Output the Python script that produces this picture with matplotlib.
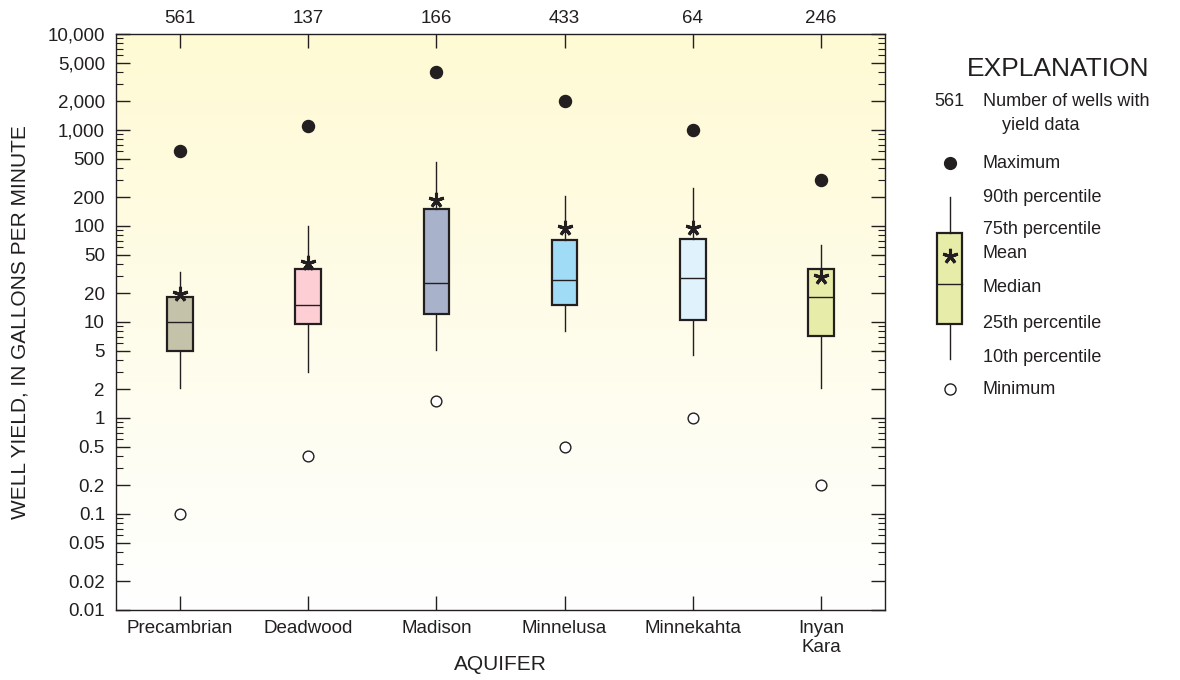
import numpy as np
import matplotlib.pyplot as plt
from matplotlib.ticker import FixedLocator, NullFormatter

plt.rcParams['font.family'] = ['Liberation Sans', 'DejaVu Sans']

# Data (gallons per minute)
aquifers = ['Precambrian', 'Deadwood', 'Madison', 'Minnelusa', 'Minnekahta', 'Inyan\nKara']
n_wells = [561, 137, 166, 433, 64, 246]
y_max = [600, 1100, 4000, 2000, 1000, 300]
p90 = [33, 100, 460, 205, 250, 63]
p75 = [18, 35.5, 150, 71, 73, 35.5]
mean = [19.5, 41, 185, 95, 95, 29.5]
median = [10, 15, 25.5, 27.5, 29, 18]
p25 = [5, 9.5, 12, 15, 10.5, 7.2]
p10 = [2.05, 3, 5.1, 8.1, 4.5, 2.05]
y_min = [0.1, 0.4, 1.5, 0.5, 1.0, 0.2]
box_colors = ['#c5c2aa', '#fdcfd4', '#a8b3cb', '#a1dcf6', '#e0f3fd', '#e7eda8']

ytick_vals = [0.01, 0.02, 0.05, 0.1, 0.2, 0.5, 1, 2, 5, 10, 20, 50, 100, 200, 500,
              1000, 2000, 5000, 10000]
ytick_labels = ['0.01', '0.02', '0.05', '0.1', '0.2', '0.5', '1', '2', '5', '10', '20',
                '50', '100', '200', '500', '1,000', '2,000', '5,000', '10,000']

tc = '#231f20'
fig = plt.figure(figsize=(11.8, 6.8), dpi=100)
ax = fig.add_axes([116 / 1180, 1 - 610 / 680, (885 - 116) / 1180, (610 - 34) / 680])

# yellow-to-white background gradient
grad = np.linspace(0, 1, 256).reshape(-1, 1)
top = np.array([254, 250, 212]) / 255
bot = np.array([255, 255, 255]) / 255
img = top * (1 - grad[..., None]) + bot * grad[..., None]
ax.imshow(img, extent=[0, 1, 0, 1], transform=ax.transAxes, aspect='auto', zorder=0)

pos = np.arange(len(aquifers))
stats = []
for i in range(len(aquifers)):
    stats.append(dict(med=median[i], q1=p25[i], q3=p75[i], whislo=p10[i], whishi=p90[i],
                      mean=mean[i], fliers=[]))

bp = ax.bxp(stats, positions=pos, widths=0.2, patch_artist=True, showcaps=False,
            showmeans=True, showfliers=False,
            boxprops=dict(linewidth=1.6, edgecolor=tc),
            medianprops=dict(color=tc, linewidth=1.0),
            whiskerprops=dict(color=tc, linewidth=1.0),
            meanprops=dict(marker=(5, 2, 0), markersize=11, markeredgewidth=2.2,
                           markeredgecolor=tc, markerfacecolor=tc))
for patch, c in zip(bp['boxes'], box_colors):
    patch.set_facecolor(c)
for m in bp['means']:
    m.set_zorder(5)

ax.scatter(pos, y_max, s=75, color=tc, zorder=4)
ax.scatter(pos, y_min, s=60, facecolor='white', edgecolor=tc, linewidth=1.0, zorder=4)

ax.set_yscale('log')
ax.set_ylim(0.01, 10000)
ax.set_xlim(-0.5, len(aquifers) - 0.5)
ax.yaxis.set_major_locator(FixedLocator(ytick_vals))
ax.set_yticklabels(ytick_labels)
minor = []
for e in range(-2, 4):
    for k in [3, 4, 6, 7, 8, 9]:
        minor.append(k * 10.0 ** e)
ax.yaxis.set_minor_locator(FixedLocator(minor))
ax.yaxis.set_minor_formatter(NullFormatter())
ax.set_xticks(pos)
ax.set_xticklabels(aquifers, fontsize=13.5, color=tc, va='top', linespacing=1.15)
ax.tick_params(axis='both', which='major', direction='in', length=10, width=1.0,
               color=tc, labelsize=13.5, labelcolor=tc, top=True, right=True)
ax.tick_params(axis='y', which='minor', direction='in', length=5, width=0.8,
               color=tc, right=True)
ax.tick_params(axis='x', which='major', pad=7)
ax.tick_params(axis='y', which='major', pad=8)
for s in ax.spines.values():
    s.set_color(tc)
    s.set_linewidth(1.0)

# number of wells along the top
for x, n in zip(pos, n_wells):
    ax.text(x, 1.012, str(n), transform=ax.get_xaxis_transform(), ha='center', va='bottom',
            fontsize=13.5, color=tc)

ax.set_xlabel('AQUIFER', fontsize=15, color=tc, va='center')
ax.xaxis.set_label_coords(0.5, -0.094)
ax.set_ylabel('WELL YIELD, IN GALLONS PER MINUTE', fontsize=15, color=tc, va='center')
ax.yaxis.set_label_coords(-0.125, 0.5)

# explanation (key) drawn in pixel space
lg = fig.add_axes([0, 0, 1, 1], facecolor='none')
lg.set_xlim(0, 1180)
lg.set_ylim(680, 0)
lg.axis('off')
lg.text(1058, 69, 'EXPLANATION', ha='center', va='center', fontsize=19, color=tc)
lg.text(949, 101, '561', ha='center', va='center', fontsize=13, color=tc)
lg.text(983, 101, 'Number of wells with', ha='left', va='center', fontsize=13, color=tc)
lg.text(1002, 126, 'yield data', ha='left', va='center', fontsize=13, color=tc)
lg.plot([950], [163], 'o', markersize=8.5, color=tc)
lg.plot([950, 950], [197, 233], color=tc, lw=1.0)
lg.plot([950, 950], [324, 359], color=tc, lw=1.0)
lg.add_patch(plt.Rectangle((937, 233), 25, 91, facecolor=box_colors[5], edgecolor=tc, lw=1.6))
lg.plot([937, 962], [284, 284], color=tc, lw=1.0)
lg.plot([950], [256], marker=(5, 2, 0), markersize=11, markeredgewidth=2.2, color=tc)
lg.plot([950], [389], 'o', markersize=8, markerfacecolor='white', markeredgecolor=tc, mew=1.0)
labels = [('Maximum', 163), ('90th percentile', 197), ('75th percentile', 230), ('Mean', 254),
          ('Median', 288), ('25th percentile', 324), ('10th percentile', 357), ('Minimum', 389)]
for t, y in labels:
    lg.text(983, y, t, ha='left', va='center', fontsize=13, color=tc)

fig.savefig('out.png', dpi=100)
